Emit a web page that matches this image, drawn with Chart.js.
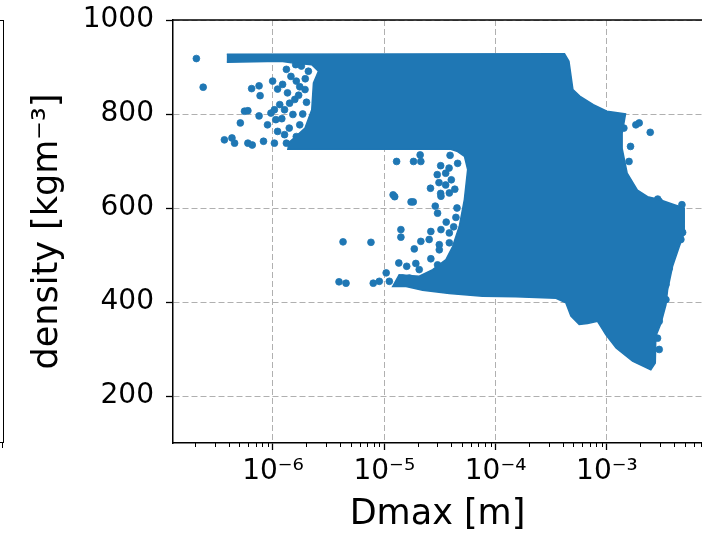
<!DOCTYPE html>
<html><head><meta charset="utf-8">
<script src="https://cdn.jsdelivr.net/npm/chart.js@4/dist/chart.umd.min.js"></script>
<style>
html,body{margin:0;padding:0;background:#fff;overflow:hidden}
#wrap{position:relative;width:702px;height:536px}
#neighbor{position:absolute;left:-2px;top:20px;width:5px;height:421px;border-top:1.3px solid #000;border-right:1.5px solid #000;border-bottom:1.5px solid #000}
#neighborTick{position:absolute;left:2px;top:443px;width:1.2px;height:5px;background:#000}
canvas{position:absolute;left:0;top:0}
</style></head><body>
<div id="wrap"><div id="neighbor"></div><div id="neighborTick"></div><canvas id="c" width="702" height="536"></canvas></div>
<script>
// ---- data ----
const xTickValues = [1e-6, 1e-5, 1e-4, 1e-3];
const xTickLabels = ['10\u207B\u2076', '10\u207B\u2075', '10\u207B\u2074', '10\u207B\u00B3'];
const yTickValues = [200, 400, 600, 800, 1000];
const xMin = 1.264e-7, xMax = 7.15e-3, yMin = 100, yMax = 1000;

// outline of the dense (fully covered) cloud of points
const blobDmax = [3.85e-7, 4.16e-4, 4.56e-4, 4.95e-4, 5.70e-4, 7.55e-4, 1.0e-3, 1.47e-3, 1.37e-3, 1.37e-3,
  1.52e-3, 1.88e-3, 2.32e-3, 2.95e-3, 4.03e-3, 4.95e-3, 4.95e-3, 4.47e-3, 3.89e-3, 3.51e-3,
  3.39e-3, 3.06e-3, 2.75e-3, 2.72e-3, 2.48e-3, 1.70e-3, 1.21e-3, 9.8e-4, 8.24e-4, 6.70e-4,
  5.64e-4, 4.75e-4, 4.28e-4, 3.49e-4, 1.52e-4, 7.64e-5, 3.84e-5, 2.21e-5, 1.57e-5, 1.19e-5,
  1.36e-5, 2.06e-5, 2.72e-5, 3.58e-5, 4.11e-5, 4.72e-5, 5.24e-5, 5.61e-5, 5.25e-5, 4.56e-5,
  3.96e-5, 1.36e-6, 1.40e-6, 1.60e-6, 1.94e-6, 2.23e-6, 2.31e-6, 2.56e-6, 2.23e-6, 1.46e-6, 1.18e-6, 3.85e-7];
const blobDensity = [927, 928, 912, 852, 838, 820, 806, 800, 759, 727,
  674, 638, 624, 618, 607, 600, 547, 518, 476, 426,
  394, 355, 327, 270, 256, 274, 302, 330, 359, 354,
  352, 370, 398, 408, 411, 412, 418, 425, 433, 433,
  458, 455, 469, 490, 518, 561, 618, 682, 710, 720,
  725, 725, 740, 752, 770, 809, 866, 891, 905, 909, 912, 910];

// isolated points around the cloud
const sparseDmax = [2.05e-7, 2.36e-7, 6.43e-7, 7.50e-7, 7.66e-7, 5.55e-7, 5.95e-7, 5.09e-7, 7.50e-7, 3.66e-7,
  4.28e-7, 4.52e-7, 5.95e-7, 6.51e-7, 8.22e-7, 9.93e-7, 1.10e-6, 1.22e-6, 1.32e-6, 1.62e-6,
  1.74e-6, 1.94e-6, 9.59e-7, 1.06e-6, 8.93e-7, 1.03e-6, 1.27e-6, 1.51e-6, 1.41e-6, 1.57e-6,
  1.74e-6, 1.10e-6, 1.27e-6, 1.03e-6, 1.32e-6, 1.62e-6, 1.80e-6, 2.08e-6,
  1.15e-6, 1.35e-6, 1.45e-6, 1.70e-6, 1.95e-6, 1.20e-6, 1.40e-6, 1.85e-6, 2.00e-6, 1.60e-6,
  1.42e-3, 1.82e-3, 1.95e-3, 2.45e-3, 1.58e-3, 1.63e-3, 2.86e-3,
  1.29e-5, 1.83e-5, 2.10e-5, 2.13e-5, 3.90e-5, 3.21e-5, 3.82e-5, 4.56e-5, 2.99e-5, 3.56e-5,
  3.10e-5, 3.56e-5, 2.60e-5, 1.20e-5, 1.24e-5, 3.21e-5, 1.74e-5, 1.82e-5, 2.87e-5, 3.01e-5,
  3.23e-5, 3.84e-5, 1.41e-5, 1.41e-5, 7.59e-6, 2.62e-5, 3.23e-5, 3.84e-5, 2.13e-5, 2.53e-5,
  3.12e-5, 3.84e-5, 1.86e-5, 3.12e-5, 1.35e-5, 1.59e-5, 1.92e-5, 2.06e-5, 2.62e-5, 3.01e-5,
  1.04e-5, 7.96e-6, 9.02e-6, 1.11e-5, 1.46e-5, 1.68e-5, 4.26e-6, 3.92e-6, 4.53e-6,
  4.0e-5, 4.3e-5, 4.4e-5, 4.2e-5, 4.5e-5, 3.6e-5, 4.1e-5,
  4.72e-3, 4.47e-3, 4.62e-3, 4.79e-3, 4.62e-3, 3.63e-3, 3.39e-3, 3.39e-3, 2.95e-3, 2.85e-3,
  2.95e-3, 2.95e-3];
const sparseDensity = [918, 857, 854, 860, 839, 806, 807, 781, 796, 745,
  749, 738, 738, 734, 742, 870, 853, 863, 895, 870,
  858, 852, 802, 788, 777, 809, 809, 799, 823, 831,
  777, 763, 756, 738, 738, 752, 902, 891,
  820, 845, 880, 840, 875, 790, 770, 800, 825, 905,
  770, 777, 781, 761, 699, 731, 619,
  699, 699, 713, 699, 712, 690, 685, 695, 671, 674,
  654, 649, 642, 628, 624, 631, 613, 613, 604, 589,
  625, 632, 554, 538, 527, 550, 554, 547, 529, 533,
  522, 526, 513, 511, 483, 476, 482, 469, 492, 479,
  462, 440, 444, 444, 451, 451, 528, 443, 440,
  660, 640, 580, 560, 600, 570, 500,
  607, 589, 572, 548, 533, 472, 437, 405, 359, 323,
  299, 614];

// ---- helpers ----
const isNice = v => { const e = Math.floor(Math.log10(v) + 1e-9); const m = v / Math.pow(10, e); return Math.abs(m - Math.round(m)) < 1e-6; };
const isMajor = v => Math.abs(Math.log10(v) - Math.round(Math.log10(v))) < 1e-6;
const blue = '#1f77b4';
const FONT = 'DejaVu Sans';

const framePlugin = {
  id: 'frame',
  afterDraw(chart) {
    const {ctx, chartArea: a, scales: {x}} = chart;
    ctx.save();
    ctx.strokeStyle = '#000';
    ctx.lineWidth = 1.5;
    ctx.beginPath(); ctx.moveTo(a.left - 0.75, a.top); ctx.lineTo(a.right, a.top); ctx.stroke();
    ctx.lineWidth = 1;
    x.ticks.forEach(t => {
      if (!isMajor(t.value)) {
        const px = Math.round(x.getPixelForValue(t.value)) + 0.5;
        ctx.beginPath(); ctx.moveTo(px, a.bottom); ctx.lineTo(px, a.bottom + 4); ctx.stroke();
      }
    });
    ctx.restore();
  }
};

new Chart(document.getElementById('c'), {
  type: 'scatter',
  data: {
    datasets: [
      { type: 'line', data: blobDmax.map((x, i) => ({x, y: blobDensity[i]})),
        borderColor: blue, backgroundColor: blue, borderWidth: 1.5, fill: 'shape', pointRadius: 0, tension: 0 },
      { type: 'scatter', data: sparseDmax.map((x, i) => ({x, y: sparseDensity[i]})),
        backgroundColor: blue, borderColor: blue, borderWidth: 0.8, pointRadius: 3.4 }
    ]
  },
  options: {
    responsive: false, animation: false, devicePixelRatio: 1,
    layout: { autoPadding: false, padding: { top: 20, left: 0, right: 0, bottom: 0 } },
    plugins: { legend: { display: false }, tooltip: { enabled: false } },
    scales: {
      x: {
        type: 'logarithmic', position: 'bottom', min: xMin, max: xMax,
        afterBuildTicks: s => { s.ticks = s.ticks.filter(t => isNice(t.value)); },
        afterFit: s => { s.height = 93; s.paddingLeft = 0; s.paddingRight = 0; s.paddingTop = 0; s.paddingBottom = 0; },
        ticks: { autoSkip: false, maxRotation: 0, minRotation: 0, padding: 5, color: '#000',
          font: { family: FONT, size: 28 },
          callback: v => { const i = xTickValues.findIndex(t => Math.abs(t - v) / t < 1e-6); return i >= 0 ? xTickLabels[i] : ''; } },
        grid: { color: c => (c.tick && isMajor(c.tick.value)) ? '#b0b0b0' : 'rgba(0,0,0,0)', lineWidth: 1,
          tickColor: c => (c.tick && isMajor(c.tick.value)) ? '#000' : 'rgba(0,0,0,0)',
          tickLength: 7, tickWidth: 1.3, tickBorderDash: [] },
        border: { display: true, color: '#000', width: 1.5, dash: [6, 3] },
        title: { display: true, text: 'Dmax [m]', color: '#000', font: { family: FONT, size: 35, lineHeight: 1.2 }, padding: { top: 0, bottom: 0 } }
      },
      y: {
        type: 'linear', min: yMin, max: yMax,
        afterBuildTicks: s => { s.ticks = yTickValues.map(v => ({value: v})); },
        afterFit: s => { s.width = 173; s.paddingLeft = 0; s.paddingRight = 0; s.paddingTop = 0; s.paddingBottom = 0; },
        ticks: { padding: 12, color: '#000', font: { family: FONT, size: 28 }, callback: v => String(v) },
        grid: { color: '#b0b0b0', lineWidth: 1, tickColor: '#000', tickLength: 7, tickWidth: 1.3, tickBorderDash: [] },
        border: { display: true, color: '#000', width: 1.5, dash: [6, 3] },
        title: { display: true, text: 'density [kgm\u207B\u00B3]', color: '#000', font: { family: FONT, size: 35, lineHeight: 1.2 }, padding: { top: 27, bottom: 0 } }
      }
    }
  },
  plugins: [framePlugin]
});
</script>
</body></html>
